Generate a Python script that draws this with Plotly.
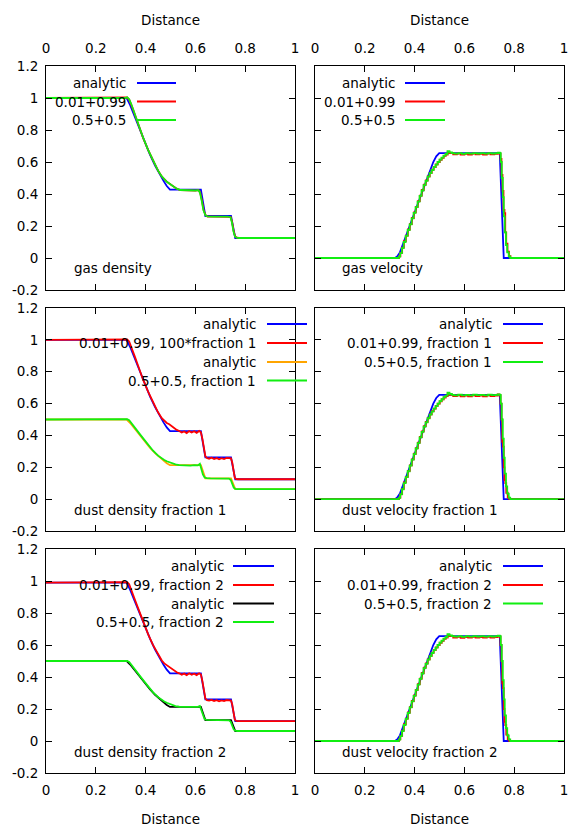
import plotly.graph_objects as go

W, H = 570, 827

# ---------------- data ----------------
dist_ticks = [0, 0.2, 0.4, 0.6, 0.8, 1]
dist_ticktext = ["0", "0.2", "0.4", "0.6", "0.8", "1"]
val_ticks = [-0.2, 0, 0.2, 0.4, 0.6, 0.8, 1, 1.2]
val_ticktext = ["-0.2", "0", "0.2", "0.4", "0.6", "0.8", "1", "1.2"]

# analytic density (gas, and dust fraction 1 scaled x100)
rho_an_x = [0.0, 0.324, 0.338, 0.351, 0.365, 0.378, 0.398, 0.418, 0.438, 0.458, 0.472, 0.485, 0.498,
            0.622, 0.640, 0.743, 0.760, 1.0]
rho_an = [1.0, 1.0, 0.955, 0.904, 0.85, 0.80, 0.72, 0.644, 0.578, 0.519, 0.482, 0.45, 0.427,
          0.427, 0.2625, 0.2625, 0.125, 0.125]
# analytic density, half (0.5+0.5 dust fractions)
rho_an_half = [0.5, 0.5, 0.478, 0.452, 0.425, 0.40, 0.36, 0.322, 0.289, 0.26, 0.241, 0.225, 0.213,
               0.213, 0.131, 0.131, 0.0625, 0.0625]
# analytic density, fraction 2 of 0.01+0.99
rho_an_099 = [0.99, 0.99, 0.945, 0.895, 0.842, 0.792, 0.713, 0.638, 0.572, 0.514, 0.477, 0.446, 0.423,
              0.423, 0.26, 0.26, 0.124, 0.124]

# numerical gas density
gas_rho_a = [(0.0, 1.0), (0.318, 1.0), (0.326, 1.003), (0.334, 0.99), (0.342, 0.962), (0.35, 0.927),
             (0.358, 0.892), (0.366, 0.856), (0.375, 0.816), (0.39, 0.751), (0.41, 0.676), (0.43, 0.606),
             (0.45, 0.546), (0.465, 0.509), (0.475, 0.491), (0.485, 0.477), (0.495, 0.466), (0.505, 0.455),
             (0.515, 0.443), (0.525, 0.433), (0.54, 0.424), (0.56, 0.422), (0.58, 0.424), (0.60, 0.421),
             (0.613, 0.424), (0.619, 0.41), (0.626, 0.36), (0.633, 0.30), (0.641, 0.268), (0.649, 0.259),
             (0.67, 0.258), (0.70, 0.259), (0.73, 0.257), (0.742, 0.255), (0.748, 0.22), (0.754, 0.165),
             (0.760, 0.134), (0.767, 0.127), (0.775, 0.125), (1.0, 0.125)]
gas_rho_b = [(0.0, 1.0), (0.318, 1.0), (0.326, 1.005), (0.334, 0.992), (0.342, 0.964), (0.35, 0.928),
             (0.358, 0.893), (0.366, 0.857), (0.375, 0.817), (0.39, 0.752), (0.41, 0.676), (0.43, 0.606),
             (0.45, 0.546), (0.465, 0.51), (0.475, 0.492), (0.485, 0.476), (0.495, 0.466), (0.505, 0.456),
             (0.515, 0.444), (0.525, 0.433), (0.54, 0.425), (0.56, 0.423), (0.58, 0.425), (0.60, 0.422),
             (0.612, 0.424), (0.618, 0.41), (0.625, 0.36), (0.632, 0.30), (0.64, 0.268), (0.648, 0.26),
             (0.67, 0.259), (0.70, 0.26), (0.73, 0.258), (0.741, 0.255), (0.747, 0.22), (0.753, 0.165),
             (0.759, 0.135), (0.766, 0.127), (0.775, 0.125), (1.0, 0.125)]

# numerical dust density, fraction 1
dust1_rho_a = [(0.0, 1.0), (0.318, 1.0), (0.326, 1.003), (0.334, 0.99), (0.342, 0.96), (0.35, 0.925),
               (0.358, 0.89), (0.366, 0.855), (0.375, 0.815), (0.39, 0.75), (0.41, 0.675), (0.43, 0.605),
               (0.45, 0.545), (0.465, 0.508), (0.475, 0.49), (0.485, 0.478), (0.495, 0.47), (0.505, 0.458),
               (0.515, 0.445), (0.525, 0.435), (0.535, 0.428), (0.545, 0.418), (0.555, 0.425), (0.565, 0.415),
               (0.575, 0.427), (0.585, 0.418), (0.595, 0.426), (0.605, 0.416), (0.615, 0.428), (0.622, 0.42),
               (0.628, 0.38), (0.634, 0.31), (0.64, 0.27), (0.646, 0.258), (0.655, 0.254), (0.665, 0.26),
               (0.675, 0.252), (0.685, 0.258), (0.695, 0.25), (0.705, 0.257), (0.715, 0.252), (0.725, 0.259),
               (0.735, 0.255), (0.743, 0.256), (0.748, 0.23), (0.753, 0.17), (0.758, 0.135), (0.764, 0.126),
               (0.772, 0.125), (1.0, 0.125)]
dust1_rho_b = [(0.0, 0.5), (0.318, 0.5), (0.326, 0.502), (0.334, 0.495), (0.342, 0.48), (0.35, 0.462),
               (0.36, 0.443), (0.37, 0.422), (0.38, 0.402), (0.395, 0.372), (0.41, 0.342), (0.43, 0.304),
               (0.45, 0.273), (0.465, 0.255), (0.475, 0.246), (0.485, 0.238), (0.495, 0.232), (0.505, 0.226),
               (0.52, 0.219), (0.535, 0.214), (0.55, 0.212), (0.565, 0.214), (0.58, 0.211), (0.595, 0.214),
               (0.61, 0.212), (0.618, 0.222), (0.624, 0.19), (0.63, 0.155), (0.637, 0.136), (0.645, 0.132),
               (0.66, 0.131), (0.68, 0.13), (0.70, 0.131), (0.72, 0.13), (0.735, 0.129), (0.742, 0.12),
               (0.748, 0.095), (0.754, 0.072), (0.76, 0.065), (0.768, 0.0625), (1.0, 0.0625)]

# numerical dust density, fraction 2
dust2_rho_a = [(0.0, 0.99), (0.318, 0.99), (0.326, 0.993), (0.334, 0.98), (0.342, 0.95), (0.35, 0.915),
               (0.358, 0.88), (0.366, 0.846), (0.375, 0.807), (0.39, 0.742), (0.41, 0.668), (0.43, 0.599),
               (0.45, 0.54), (0.465, 0.503), (0.475, 0.485), (0.485, 0.473), (0.495, 0.465), (0.505, 0.453),
               (0.515, 0.44), (0.525, 0.43), (0.535, 0.423), (0.545, 0.414), (0.555, 0.421), (0.565, 0.411),
               (0.575, 0.423), (0.585, 0.414), (0.595, 0.421), (0.605, 0.412), (0.615, 0.423), (0.622, 0.416),
               (0.628, 0.376), (0.634, 0.307), (0.64, 0.267), (0.646, 0.255), (0.655, 0.252), (0.665, 0.257),
               (0.675, 0.25), (0.685, 0.255), (0.695, 0.248), (0.705, 0.254), (0.715, 0.25), (0.725, 0.256),
               (0.735, 0.252), (0.743, 0.253), (0.748, 0.228), (0.753, 0.168), (0.758, 0.134), (0.764, 0.125),
               (0.772, 0.124), (1.0, 0.124)]
dust2_rho_b = [(0.0, 0.5), (0.318, 0.5), (0.326, 0.501), (0.334, 0.494), (0.342, 0.479), (0.35, 0.461),
               (0.36, 0.442), (0.37, 0.421), (0.38, 0.401), (0.395, 0.371), (0.41, 0.341), (0.43, 0.304),
               (0.45, 0.274), (0.465, 0.256), (0.475, 0.247), (0.485, 0.239), (0.495, 0.232), (0.505, 0.225),
               (0.52, 0.218), (0.535, 0.214), (0.55, 0.213), (0.565, 0.212), (0.58, 0.213), (0.595, 0.211),
               (0.61, 0.213), (0.618, 0.219), (0.624, 0.19), (0.63, 0.155), (0.637, 0.136), (0.645, 0.132),
               (0.66, 0.131), (0.68, 0.131), (0.70, 0.13), (0.72, 0.131), (0.735, 0.129), (0.742, 0.12),
               (0.748, 0.095), (0.754, 0.072), (0.76, 0.065), (0.768, 0.0625), (1.0, 0.0625)]

# analytic velocity (same in all three velocity panels)
vel_an_x = [0.0, 0.321, 0.33, 0.341, 0.37, 0.40, 0.43, 0.46, 0.475, 0.487, 0.499, 0.742, 0.758, 1.0]
vel_an = [0.0, 0.0, 0.01, 0.035, 0.158, 0.286, 0.414, 0.542, 0.6, 0.635, 0.655, 0.655, 0.0, 0.0]

# numerical velocities
vel_gas_a = [(0.0, 0.0), (0.331, 0.0), (0.337, 0.01), (0.343, 0.032), (0.35, 0.065), (0.357, 0.105),
             (0.365, 0.14), (0.373, 0.178), (0.381, 0.212), (0.389, 0.25), (0.397, 0.285), (0.405, 0.32),
             (0.413, 0.355), (0.421, 0.39), (0.429, 0.425), (0.437, 0.458), (0.445, 0.485), (0.453, 0.51),
             (0.461, 0.532), (0.469, 0.552), (0.477, 0.568), (0.485, 0.585), (0.493, 0.6), (0.501, 0.614),
             (0.509, 0.626), (0.517, 0.638), (0.525, 0.647), (0.533, 0.662), (0.54, 0.655), (0.555, 0.648),
             (0.57, 0.652), (0.585, 0.646), (0.60, 0.651), (0.615, 0.647), (0.63, 0.652), (0.645, 0.648),
             (0.66, 0.651), (0.675, 0.647), (0.69, 0.652), (0.705, 0.648), (0.72, 0.651), (0.733, 0.656),
             (0.74, 0.652), (0.745, 0.62), (0.749, 0.52), (0.753, 0.42), (0.757, 0.3), (0.761, 0.28),
             (0.764, 0.16), (0.768, 0.09), (0.773, 0.04), (0.779, 0.012), (0.785, 0.0), (1.0, 0.0)]
vel_gas_b = [(0.0, 0.0), (0.33, 0.0), (0.336, 0.008), (0.342, 0.03), (0.349, 0.062), (0.356, 0.1),
             (0.364, 0.138), (0.372, 0.175), (0.38, 0.21), (0.388, 0.248), (0.396, 0.282), (0.404, 0.318),
             (0.412, 0.352), (0.42, 0.388), (0.428, 0.422), (0.436, 0.455), (0.444, 0.482), (0.452, 0.508),
             (0.46, 0.53), (0.468, 0.55), (0.476, 0.568), (0.484, 0.584), (0.492, 0.6), (0.5, 0.615),
             (0.508, 0.627), (0.516, 0.64), (0.524, 0.65), (0.532, 0.668), (0.54, 0.66), (0.55, 0.655),
             (0.56, 0.652), (0.575, 0.656), (0.59, 0.651), (0.605, 0.655), (0.62, 0.652), (0.635, 0.656),
             (0.65, 0.653), (0.665, 0.655), (0.68, 0.652), (0.695, 0.656), (0.71, 0.653), (0.725, 0.655),
             (0.735, 0.658), (0.742, 0.655), (0.746, 0.6), (0.75, 0.5), (0.754, 0.38), (0.758, 0.26),
             (0.762, 0.16), (0.767, 0.08), (0.772, 0.035), (0.778, 0.01), (0.784, 0.0), (1.0, 0.0)]
vel_dust_a = [(0.0, 0.0), (0.331, 0.0), (0.337, 0.01), (0.343, 0.032), (0.35, 0.065), (0.357, 0.105),
              (0.365, 0.14), (0.373, 0.178), (0.381, 0.212), (0.389, 0.25), (0.397, 0.285), (0.405, 0.32),
              (0.413, 0.355), (0.421, 0.39), (0.429, 0.425), (0.437, 0.458), (0.445, 0.485), (0.453, 0.51),
              (0.461, 0.532), (0.469, 0.552), (0.477, 0.568), (0.485, 0.585), (0.493, 0.6), (0.501, 0.614),
              (0.509, 0.626), (0.517, 0.638), (0.525, 0.647), (0.533, 0.662), (0.54, 0.655), (0.555, 0.647),
              (0.57, 0.651), (0.585, 0.645), (0.60, 0.65), (0.615, 0.646), (0.63, 0.651), (0.645, 0.647),
              (0.66, 0.65), (0.675, 0.646), (0.69, 0.651), (0.705, 0.647), (0.72, 0.65), (0.733, 0.657),
              (0.74, 0.652), (0.745, 0.6), (0.749, 0.5), (0.752, 0.36), (0.755, 0.33), (0.758, 0.2),
              (0.761, 0.12), (0.764, 0.1), (0.768, 0.04), (0.774, 0.01), (0.78, 0.0), (1.0, 0.0)]
vel_dust_b = vel_gas_b

# ---------------- figure ----------------
BLUE, RED, GREEN, ORANGE, BLACK = "#0000ff", "#ff0000", "#11ee11", "#ffa500", "#000000"
FONT = dict(family="DejaVu Sans", size=13.5, color="black")
LW = 1.8

dom_x = [(46, 295), (315, 564)]
dom_y = [(66, 290), (308, 531), (549, 773)]


def px(x, y):
    return x / W, 1 - y / H


fig = go.Figure()


def add_line(panel, x, y, color, shape="linear"):
    fig.add_trace(go.Scatter(x=x, y=y, mode="lines", line=dict(color=color, width=LW, shape=shape),
                             xaxis=f"x{panel}", yaxis=f"y{panel}", showlegend=False, hoverinfo="skip"))


def add_pts(panel, pts, color, shape="linear"):
    add_line(panel, [p[0] for p in pts], [p[1] for p in pts], color, shape)


# panel 1: gas density
add_line(1, rho_an_x, rho_an, BLUE)
add_pts(1, gas_rho_a, RED)
add_pts(1, gas_rho_b, GREEN)
# panel 2: gas velocity
add_line(2, vel_an_x, vel_an, BLUE)
add_pts(2, vel_gas_a, RED, "hv")
add_pts(2, vel_gas_b, GREEN, "hv")
# panel 3: dust density fraction 1
add_line(3, rho_an_x, rho_an, BLUE)
add_pts(3, dust1_rho_a, RED)
add_line(3, rho_an_x, rho_an_half, ORANGE)
add_pts(3, dust1_rho_b, GREEN)
# panel 4: dust velocity fraction 1
add_line(4, vel_an_x, vel_an, BLUE)
add_pts(4, vel_dust_a, RED, "hv")
add_pts(4, vel_dust_b, GREEN, "hv")
# panel 5: dust density fraction 2
add_line(5, rho_an_x, rho_an_099, BLUE)
add_pts(5, dust2_rho_a, RED)
add_line(5, rho_an_x, rho_an_half, BLACK)
add_pts(5, dust2_rho_b, GREEN)
# panel 6: dust velocity fraction 2
add_line(6, vel_an_x, vel_an, BLUE)
add_pts(6, vel_dust_a, RED, "hv")
add_pts(6, vel_dust_b, GREEN, "hv")

layout = {}
for i in range(6):
    row, col = divmod(i, 2)
    n = i + 1
    sfx = "" if n == 1 else str(n)
    x0, x1 = dom_x[col]
    y0, y1 = dom_y[row]
    layout[f"xaxis{sfx}"] = dict(
        domain=[x0 / W, x1 / W], range=[0, 1], anchor=f"y{sfx}",
        side="top" if row == 0 else "bottom",
        showticklabels=row != 1,
        tickvals=dist_ticks, ticktext=dist_ticktext,
        ticks="inside", ticklen=6, tickcolor="black", mirror="ticks",
        showline=True, linecolor="black", linewidth=1,
        showgrid=False, zeroline=False, automargin=False, tickfont=FONT,
        ticklabelstandoff=7 if row == 0 else 5,
    )
    layout[f"yaxis{sfx}"] = dict(
        domain=[1 - y1 / H, 1 - y0 / H], range=[-0.2, 1.2], anchor=f"x{sfx}",
        showticklabels=col == 0,
        tickvals=val_ticks, ticktext=val_ticktext,
        ticks="inside", ticklen=6, tickcolor="black", mirror="ticks",
        showline=True, linecolor="black", linewidth=1,
        showgrid=False, zeroline=False, automargin=False, tickfont=FONT,
        ticklabelstandoff=4,
    )

annotations = []
shapes = []


def text(x, y, s, anchor):
    ax, ay = px(x, y)
    annotations.append(dict(x=ax, y=ay, xref="paper", yref="paper", text=s, showarrow=False,
                            xanchor=anchor, yanchor="middle", font=FONT))


def key(xt, x0, x1, y, label, color):
    text(xt, y, label, "right")
    a0, ay = px(x0, y)
    a1, _ = px(x1, y)
    shapes.append(dict(type="line", xref="paper", yref="paper", x0=a0, x1=a1, y0=ay, y1=ay,
                       line=dict(color=color, width=LW)))


# axis titles
for cx in (170.5, 439.5):
    text(cx, 20, "Distance", "center")
    text(cx, 819, "Distance", "center")

# panel labels
text(72, 268, "gas density", "left")
text(340, 268, "gas velocity", "left")
text(72, 510, "dust density fraction 1", "left")
text(340, 510, "dust velocity fraction 1", "left")
text(72, 752, "dust density fraction 2", "left")
text(340, 752, "dust velocity fraction 2", "left")

# keys
rows_top = [83, 101.5, 120]
for yy, lab, c in zip(rows_top, ["analytic", "0.01+0.99", "0.5+0.5"], [BLUE, RED, GREEN]):
    key(128, 137, 176, yy, lab, c)
for yy, lab, c in zip(rows_top, ["analytic", "0.01+0.99", "0.5+0.5"], [BLUE, RED, GREEN]):
    key(397, 405, 445, yy, lab, c)

rows_mid = [324, 343, 362, 380.5]
for yy, lab, c in zip(rows_mid, ["analytic", "0.01+0.99, 100*fraction 1", "analytic", "0.5+0.5, fraction 1"],
                      [BLUE, RED, ORANGE, GREEN]):
    key(258, 267, 307, yy, lab, c)
for yy, lab, c in zip(rows_mid[:3], ["analytic", "0.01+0.99, fraction 1", "0.5+0.5, fraction 1"],
                      [BLUE, RED, GREEN]):
    key(494, 503, 543, yy, lab, c)

rows_bot = [566, 585, 603.5, 622]
for yy, lab, c in zip(rows_bot, ["analytic", "0.01+0.99, fraction 2", "analytic", "0.5+0.5, fraction 2"],
                      [BLUE, RED, BLACK, GREEN]):
    key(226, 233, 274, yy, lab, c)
for yy, lab, c in zip(rows_bot[:3], ["analytic", "0.01+0.99, fraction 2", "0.5+0.5, fraction 2"],
                      [BLUE, RED, GREEN]):
    key(494, 503, 543, yy, lab, c)

fig.update_layout(
    width=W, height=H, margin=dict(l=0, r=0, t=0, b=0),
    paper_bgcolor="white", plot_bgcolor="white", font=FONT,
    annotations=annotations, shapes=shapes, showlegend=False,
    **layout,
)

# drop the browser's default body margin so the figure sits at the page corner
fig.write_html("out.html", config={"displayModeBar": False},
               post_script="document.body.style.margin='0';document.body.style.overflow='hidden';")
